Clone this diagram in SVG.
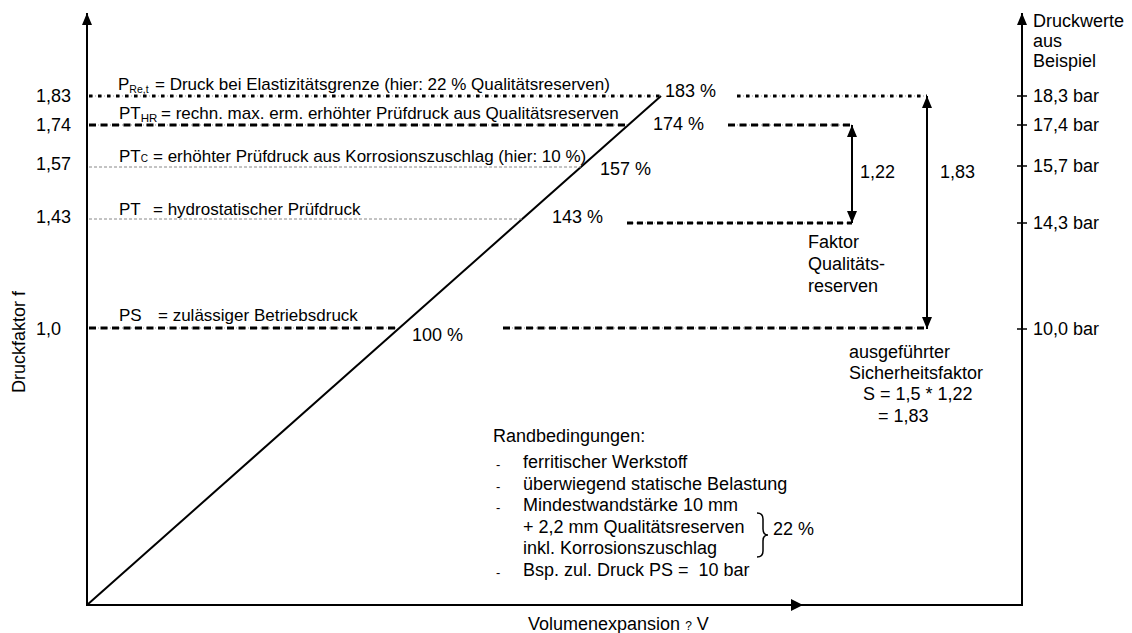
<svg xmlns="http://www.w3.org/2000/svg" width="1132" height="633" viewBox="0 0 1132 633">
<style>
text{font-family:"Liberation Sans",Arial,sans-serif;font-size:18px;fill:#000}
.lbl{font-size:17px}
.hy{font-size:13px}
.ax{stroke:#000;stroke-width:2;fill:none}
.thin{stroke:#888;stroke-width:1;stroke-dasharray:3 2;fill:none}
.under{stroke:#999;stroke-width:1;stroke-dasharray:1 2;fill:none}
.dot{stroke:#000;stroke-width:3;stroke-dasharray:3.5 5.5;fill:none}
.dash{stroke:#000;stroke-width:3;stroke-dasharray:7 4.5;fill:none}
.tick{stroke:#000;stroke-width:1.5}
</style>
<defs>
<marker id="ah" viewBox="0 0 12 10" refX="12" refY="5" markerWidth="12" markerHeight="10" markerUnits="userSpaceOnUse" orient="auto-start-reverse">
<path d="M0,0 L12,5 L0,10 Z" fill="#000"/>
</marker>
<marker id="am" viewBox="0 0 12 12" refX="12" refY="6" markerWidth="12" markerHeight="12" markerUnits="userSpaceOnUse" orient="auto">
<path d="M0,0 L12,6 L0,12 Z" fill="#000"/>
</marker>
</defs>
<rect width="1132" height="633" fill="#fff"/>

<g id="connectors">
<line class="ax" x1="87" y1="606" x2="87" y2="13" marker-end="url(#ah)"/>
<line class="ax" x1="1022" y1="606" x2="1022" y2="13" marker-end="url(#ah)"/>
<path class="ax" d="M87,605 L803,605 L1022,605" marker-mid="url(#am)"/>
<line x1="87" y1="605" x2="661" y2="96" stroke="#000" stroke-width="2"/>
<line class="under" x1="89" y1="96" x2="661" y2="96"/>
<line class="dot" x1="89" y1="96" x2="661" y2="96"/>
<line class="under" x1="737" y1="96" x2="927" y2="96"/>
<line class="dot" x1="737" y1="96" x2="927" y2="96"/>
<line class="under" x1="89" y1="125" x2="628" y2="125"/>
<line class="dash" x1="89" y1="125" x2="628" y2="125"/>
<line class="under" x1="728" y1="125" x2="852" y2="125"/>
<line class="dash" x1="728" y1="125" x2="852" y2="125"/>
<line class="thin" x1="89" y1="167" x2="581" y2="167"/>
<line class="thin" x1="89" y1="219" x2="523" y2="219"/>
<line class="under" x1="627" y1="223" x2="852" y2="223"/>
<line class="dash" x1="627" y1="223" x2="852" y2="223" style="stroke-dasharray:6 4"/>
<line class="under" x1="89" y1="328" x2="396" y2="328"/>
<line class="dash" x1="89" y1="328" x2="396" y2="328"/>
<line class="under" x1="503" y1="328" x2="927" y2="328"/>
<line class="dash" x1="503" y1="328" x2="927" y2="328"/>
<line x1="852" y1="125" x2="852" y2="223" stroke="#000" stroke-width="2" marker-start="url(#ah)" marker-end="url(#ah)"/>
<line x1="927" y1="96" x2="927" y2="329" stroke="#000" stroke-width="2" marker-start="url(#ah)" marker-end="url(#ah)"/>
<line class="tick" x1="1017" y1="96" x2="1027" y2="96"/>
<line class="tick" x1="1017" y1="125" x2="1027" y2="125"/>
<line class="tick" x1="1017" y1="166" x2="1027" y2="166"/>
<line class="tick" x1="1017" y1="223" x2="1027" y2="223"/>
<line class="tick" x1="1017" y1="329" x2="1027" y2="329"/>
</g>

<g id="y-axis-labels">
<text x="36" y="102">1,83</text>
<text x="36" y="131">1,74</text>
<text x="36" y="170">1,57</text>
<text x="36" y="223">1,43</text>
<text x="36" y="335">1,0</text>
<text transform="translate(25,393) rotate(-90)">Druckfaktor f</text>
</g>

<g id="line-labels">
<text class="lbl" x="118" y="90">P<tspan font-size="10.5" dy="3">Re,t</tspan><tspan x="155" dy="-3">= Druck bei Elastizitätsgrenze (hier: 22 % Qualitätsreserven)</tspan></text>
<text class="lbl" x="119" y="119">PT<tspan font-size="11.5" dy="3">HR</tspan><tspan x="161" dy="-3">= rechn. max. erm. erhöhter Prüfdruck aus Qualitätsreserven</tspan></text>
<text class="lbl" x="119" y="162">PT<tspan font-size="10">C</tspan><tspan x="153">= erhöhter Prüfdruck aus Korrosionszuschlag (hier: 10 %)</tspan></text>
<text class="lbl" x="119" y="215">PT<tspan x="153">= hydrostatischer Prüfdruck</tspan></text>
<text class="lbl" x="119" y="321">PS<tspan x="158">= zulässiger Betriebsdruck</tspan></text>
</g>

<g id="percent-labels">
<text x="665" y="97">183 %</text>
<text x="653" y="130">174 %</text>
<text x="600" y="175">157 %</text>
<text x="552" y="223">143 %</text>
<text x="412" y="341">100 %</text>
</g>

<g id="factor-labels">
<text x="860" y="178">1,22</text>
<text x="940" y="178">1,83</text>
<text x="808" y="248">Faktor</text>
<text x="808" y="270">Qualitäts-</text>
<text x="808" y="292">reserven</text>
<text x="849" y="358">ausgeführter</text>
<text x="849" y="379">Sicherheitsfaktor</text>
<text x="863" y="400">S = 1,5 * 1,22</text>
<text x="878" y="422">= 1,83</text>
</g>

<g id="right-axis-labels">
<text x="1033" y="27">Druckwerte</text>
<text x="1033" y="47">aus</text>
<text x="1033" y="67">Beispiel</text>
<text x="1033" y="102">18,3 bar</text>
<text x="1033" y="131">17,4 bar</text>
<text x="1033" y="172">15,7 bar</text>
<text x="1033" y="229">14,3 bar</text>
<text x="1033" y="335">10,0 bar</text>
</g>

<g id="conditions">
<text x="493" y="442">Randbedingungen:</text>
<text class="hy" x="496" y="469">-</text><text x="523" y="468">ferritischer Werkstoff</text>
<text class="hy" x="496" y="491">-</text><text x="523" y="490">überwiegend statische Belastung</text>
<text class="hy" x="496" y="512">-</text><text x="523" y="511">Mindestwandstärke 10 mm</text>
<text x="523" y="533">+ 2,2 mm Qualitätsreserven</text>
<text x="523" y="554">inkl. Korrosionszuschlag</text>
<text class="hy" x="496" y="577">-</text><text x="523" y="576">Bsp. zul. Druck PS =&#160; 10 bar</text>
<path d="M757,513 Q763,513 763,519 L763,529 Q763,535 768,535 Q763,535 763,541 L763,551 Q763,557 757,557" fill="none" stroke="#000" stroke-width="1.5"/>
<text x="773" y="535">22 %</text>
</g>

<g id="x-axis-label">
<text x="528" y="630">Volumenexpansion <tspan font-size="12">?</tspan> V</text>
</g>
</svg>
